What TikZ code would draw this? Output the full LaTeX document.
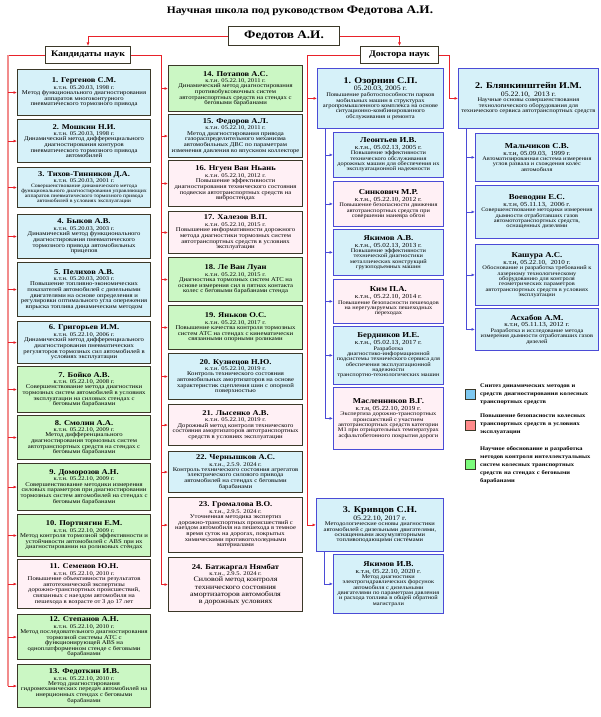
\documentclass[tikz,border=0pt]{standalone}
\usepackage{fontspec}
\setmainfont{Liberation Serif}[FakeStretch=1.15]
\usepackage{graphicx}
\usetikzlibrary{arrows.meta}
\definecolor{cblue}{HTML}{D6F1F9}
\definecolor{cgreen}{HTML}{CBF7C4}
\definecolor{cpink}{HTML}{FFF0F5}
\definecolor{bdark}{HTML}{3B3828}
\definecolor{lred}{HTML}{E8222A}
\definecolor{ltrunk}{HTML}{F28C8C}
\definecolor{dblue}{HTML}{4B4BD6}
\definecolor{swblue}{HTML}{7EC8F0}
\definecolor{swred}{HTML}{FF8A8A}
\definecolor{swgreen}{HTML}{7CFC7C}
\newsavebox\hdrbox
\newsavebox\tbox
\newdimen\availh
\newif\iffitmore
\def\Ta{7.4}\def\Tb{8}\def\Da{5.7}\def\Db{6.4}\def\Sa{5.8}\def\Sl{0.97}
\newcommand\myfitdesc[3]{%
  \edef\myfs{\Sa}%
  \loop
    \edef\myfsb{\fpeval{\myfs*\Sl}}%
    \sbox\tbox{\parbox{#1}{\centering\fontsize{\myfs}{\myfsb}\selectfont #3\par}}%
    \fitmorefalse
    \ifdim\dimexpr\ht\tbox+\dp\tbox\relax>#2\relax
      \ifdim\myfs pt>3.6pt
        \fitmoretrue
        \edef\myfs{\fpeval{\myfs-0.2}}%
      \fi
    \fi
  \iffitmore\repeat}
\newcommand\mycontent[5]{%
  \sbox\hdrbox{\parbox{#1}{\centering{\fontsize{\Ta}{\Tb}\selectfont\bfseries #3\par}{\fontsize{\Da}{\Db}\selectfont #4\par}}}%
  \availh=\dimexpr#2-\ht\hdrbox-\dp\hdrbox-0.6pt\relax
  \myfitdesc{#1}{\availh}{#5}%
  \vbox{\offinterlineskip\copy\hdrbox\kern0.6pt\copy\tbox}}
\newcommand\mybox[9]{\node[#2,minimum width=#5pt,minimum height=#6pt,anchor=north west] (#1) at (#3,#4) {\mycontent{\dimexpr#5pt-5pt\relax}{\dimexpr#6pt-3pt\relax}{#7}{#8}{#9}};}
\begin{document}
\begin{tikzpicture}[x=1pt,y=-1pt,
  cb/.style={draw=bdark,line width=1.1pt,inner sep=0pt},
  db/.style={draw=dblue,line width=0.8pt,inner sep=0pt},
  hb/.style={draw=bdark,line width=1pt,fill=white,inner sep=0pt},
  rl/.style={draw=lred,line width=0.8pt},
  ra/.style={rl,-{Latex[length=3.5pt,width=3pt]}},
  trunk/.style={draw=ltrunk,line width=1.4pt},
  bl/.style={draw=dblue,line width=0.8pt},
  ba/.style={bl,-{Latex[length=3.5pt,width=3pt]}},
  leg/.style={text width=118pt,align=left,font=\fontsize{5.6}{8}\selectfont\bfseries,inner sep=0pt,anchor=west},
  swatch/.style={minimum width=10pt,minimum height=10pt,draw=bdark,line width=0.8pt,inner sep=0pt}]
\fill[white] (0,0) rectangle (600,717);
\useasboundingbox (0,0) rectangle (600,717);

% header
\node (title) at (300,11) {\fontsize{10}{12}\selectfont\bfseries Научная школа под руководством \fontsize{11.5}{13}\selectfont Федотова А.И.};
\node[hb,minimum width=111pt,minimum height=19pt,anchor=north west] (fed) at (228,26) {\fontsize{11.5}{13}\selectfont\bfseries Федотов А.И.};
\node[hb,minimum width=85pt,minimum height=17pt,anchor=north west] (kand) at (45,46) {\fontsize{8.6}{10}\selectfont\bfseries Кандидаты наук};
\node[hb,minimum width=78pt,minimum height=17pt,anchor=north west] (dok) at (360,46) {\fontsize{8.6}{10}\selectfont\bfseries Доктора наук};

% left column
\mybox{c1}{cb,fill=cblue}{17}{69}{133}{46}{1. Гергенов С.М.}{к.т.н. 05.20.03, 1998 г.}{Метод функционального диагностирования аппаратов многоконтурного пневматического тормозного привода}
\mybox{c2}{cb,fill=cblue}{17}{119}{133}{43}{2. Мошкин Н.И.}{к.т.н. 05.20.03, 1998 г.}{Динамический метод дифференциального диагностирования контуров пневматического тормозного привода автомобилей}
\mybox{c3}{cb,fill=cblue}{17}{167}{133}{40}{3. Тихов-Тинников Д.А.}{к.т.н. 05.20.03, 2001 г.}{Совершенствование динамического метода функционального диагностирования управляющих аппаратов пневматического тормозного привода автомобилей в условиях эксплуатации}
\mybox{c4}{cb,fill=cblue}{17}{214}{133}{44}{4. Быков А.В.}{к.т.н. 05.20.03, 2003 г.}{Динамический метод функционального диагностирования пневматического тормозного привода автомобильных прицепов}
\mybox{c5}{cb,fill=cblue}{17}{262}{133}{54}{5. Пелихов А.В.}{к.т.н. 05.20.03, 2003 г.}{Повышение топливно-экономических показателей автомобилей с дизельными двигателями на основе определения и регулировки оптимального угла опережения впрыска топлива динамическим методом}
\mybox{c6}{cb,fill=cblue}{17}{321}{133}{42}{6. Григорьев И.М.}{к.т.н. 05.22.10, 2006 г.}{Динамический метод дифференциального диагностирования пневматических регуляторов тормозных сил автомобилей в условиях эксплуатации}
\mybox{c7}{cb,fill=cgreen}{17}{366}{133}{46}{7. Бойко А.В.}{к.т.н. 05.22.10, 2008 г.}{Совершенствование метода диагностики тормозных систем автомобилей в условиях эксплуатации на силовых стендах с беговыми барабанами}
\mybox{c8}{cb,fill=cgreen}{17}{415}{133}{44}{8. Смолин А.А.}{к.т.н. 05.22.10, 2009 г.}{Метод дифференциального диагностирования тормозных систем автотранспортных средств на стендах с беговыми барабанами}
\mybox{c9}{cb,fill=cgreen}{17}{463}{133}{47}{9. Доморозов А.Н.}{к.т.н. 05.22.10, 2009 г.}{Совершенствование методики измерения силовых параметров при диагностировании тормозных систем автомобилей на стендах с беговыми барабанами}
\mybox{c10}{cb,fill=cgreen}{17}{514}{133}{42}{10. Портнягин Е.М.}{к.т.н. 05.22.10, 2009 г.}{Метод контроля тормозной эффективности и устойчивости автомобилей с ABS при их диагностировании на роликовых стендах}
\mybox{c11}{cb,fill=cpink}{17}{559}{133}{49}{11. Семенов Ю.Н.}{к.т.н. 05.22.10, 2010 г.}{Повышение объективности результатов автотехнической экспертизы дорожно-транспортных происшествий, связанных с наездом автомобиля на пешехода в возрасте от 3 до 17 лет}
\mybox{c12}{cb,fill=cgreen}{17}{614}{133}{45}{12. Степанов А.Н.}{к.т.н. 05.22.10, 2010 г.}{Метод последовательного диагностирования тормозной системы АТС с функционирующей ABS на одноплатформенном стенде с беговыми барабанами}
\mybox{c13}{cb,fill=cgreen}{17}{664}{133}{43}{13. Федоткин И.В.}{к.т.н. 05.22.10, 2010 г.}{Метод диагностирования гидромеханических передач автомобилей на инерционных стендах с беговыми барабанами}

% middle column
\mybox{c14}{cb,fill=cgreen}{168}{65}{134}{46}{14. Потапов А.С.}{к.т.н. 05.22.10, 2011 г.}{Динамический метод диагностирования противобуксовочных систем автотранспортных средств на стендах с беговыми барабанами}
\mybox{c15}{cb,fill=cblue}{168}{114}{134}{43}{15. Федоров А.Л.}{к.т.н. 05.22.10, 2011 г.}{Метод диагностирования привода газораспределительного механизма автомобильных ДВС по параметрам изменения давления во впускном коллекторе}
\mybox{c16}{cb,fill=cpink}{168}{160}{134}{46}{16. Нгуен Ван Ньань}{к.т.н. 05.22.10, 2012 г.}{Повышение эффективности диагностирования технического состояния подвески автотранспортных средств на вибростендах}
\mybox{c17}{cb,fill=cpink}{168}{211}{134}{42}{17. Халезов В.П.}{к.т.н. 05.22.10, 2015 г.}{Повышение информативности дорожного метода диагностики тормозных систем автотранспортных средств в условиях эксплуатации}
\mybox{c18}{cb,fill=cgreen}{168}{257}{134}{44}{18. Ле Ван Луан}{к.т.н. 05.22.10, 2015 г.}{Диагностика тормозных систем АТС на основе измерения сил в пятнах контакта колес с беговыми барабанами стенда}
\mybox{c19}{cb,fill=cgreen}{168}{305}{134}{44}{19. Яньков О.С.}{к.т.н. 05.22.10, 2017 г.}{Повышение качества контроля тормозных систем АТС на стендах с кинематически связанными опорными роликами}
\mybox{c20}{cb,fill=cblue}{168}{353}{134}{46}{20. Кузнецов Н.Ю.}{к.т.н. 05.22.10, 2019 г.}{Контроль технического состояния автомобильных амортизаторов на основе характеристик сцепления шин с опорной поверхностью}
\mybox{c21}{cb,fill=cpink}{168}{404}{134}{41}{21. Лысенко А.В.}{к.т.н. 05.22.10, 2019 г.}{Дорожный метод контроля технического состояния амортизаторов автотранспортных средств в условиях эксплуатации}
\mybox{c22}{cb,fill=cblue}{168}{451}{134}{41}{22. Чернышков А.С.}{к.т.н., 2.5.9. 2024 г.}{Контроль технического состояния агрегатов электрического силового привода автомобилей на стендах с беговыми барабанами}
\mybox{c23}{cb,fill=cpink}{168}{497}{134}{55}{23. Громалова В.О.}{к.т.н., 2.9.5. 2024 г.}{Уточненная методика экспертиз дорожно-транспортных происшествий с наездом автомобиля на пешехода в темное время суток на дорогах, покрытых химическими противогололедными материалами}
\def\Sa{6.9}\def\Sl{1.05}
\mybox{c24}{cb,fill=cpink}{168}{557}{134}{54}{24. Батжаргал Нямбат}{к.т.н., 2.9.5. 2024 г.}{Силовой метод контроля\\ технического состояния\\ амортизаторов автомобиля\\ в дорожных условиях}

% doctors main boxes
\def\Ta{8.8}\def\Tb{10}\def\Da{6.8}\def\Db{7.8}\def\Sa{5.6}\def\Sl{0.97}
\mybox{oz}{db,fill=cblue}{317}{68}{126}{60}{1. Озорнин С.П.}{05.20.03, 2005 г.}{Повышение работоспособности парков мобильных машин в структурах агропромышленного комплекса на основе ситуационно-комбинированного обслуживания и ремонта}
\mybox{kriv}{db,fill=cblue}{316}{498}{127}{53}{3. Кривцов С.Н.}{05.22.10, 2017 г.}{Методологические основы диагностики автомобилей с дизельными двигателями, оснащенными аккумуляторными топливоподающими системами}
\mybox{bly}{db,fill=cblue}{458}{68}{140}{60}{2. Блянкинштейн И.М.}{05.22.10,\ \ 2013 г.}{Научные основы совершенствования технологического оборудования для технического сервиса автотранспортных средств}

% doctors sub boxes
\def\Ta{7.6}\def\Tb{8.4}\def\Da{6.2}\def\Db{6.9}\def\Sa{5.5}
\mybox{leo}{db,fill=cblue}{333}{132}{110}{45}{Леонтьев И.В.}{к.т.н., 05.02.13, 2005 г.}{Повышение эффективности технического обслуживания дорожных машин для обеспечения их эксплуатационной надежности}
\mybox{sin}{db,fill=cpink}{333}{181}{110}{45}{Синкович М.Р.}{к.т.н., 05.22.10, 2012 г.}{Повышение безопасности движения автотранспортных средств при совершении маневра обгон}
\mybox{yaka}{db,fill=cblue}{333}{229}{110}{46}{Якимов А.В.}{к.т.н., 05.02.13, 2013 г.}{Повышение эффективности технической диагностики металлических конструкций грузоподъемных машин}
\mybox{kim}{db,fill=cpink}{333}{279}{110}{44}{Ким П.А.}{к.т.н., 05.22.10, 2014 г.}{Повышение безопасности пешеходов на нерегулируемых пешеходных переходах}
\mybox{ber}{db,fill=cblue}{333}{326}{110}{58}{Бердников И.Е.}{к.т.н., 05.02.13, 2017 г.}{Разработка диагностико-информационной подсистемы технического сервиса для обеспечения эксплуатационной надежности транспортно-технологических машин}
\mybox{masl}{db,fill=cpink}{333}{387}{110}{62}{Масленников В.Г.}{к.т.н, 05.22.10, 2019 г.}{Экспертиза дорожно-транспортных происшествий с участием автотранспортных средств категории M1 при отрицательных температурах асфальтобетонного покрытия дороги}
\mybox{yaki}{db,fill=cblue}{333}{554}{110}{59}{Якимов И.В.}{к.т.н, 05.22.10, 2020 г.}{Метод диагностики электрогидравлических форсунок автомобиля с дизельными двигателями по параметрам давления и расхода топлива в общей обратной магистрали}
\mybox{mal}{db,fill=cblue}{475}{133}{123}{48}{Мальчиков С.В.}{к.т.н, 05.09.03,\ \ 1999 г.}{Автоматизированная система измерения углов развала и схождения колес автомобиля}
\mybox{voe}{db,fill=cblue}{475}{185}{123}{53}{Воеводин Е.С.}{к.т.н, 05.11.13,\ \ 2006 г.}{Совершенствование методики измерения дымности отработавших газов автомототранспортных средств, оснащенных дизелями}
\mybox{kas}{db,fill=cblue}{475}{244}{123}{61}{Кашура А.С.}{к.т.н, 05.22.10,\ \ 2010 г.}{Обоснование и разработка требований к лазерному технологическому оборудованию для контроля геометрических параметров автотранспортных средств в условиях эксплуатации}
\mybox{ask}{db,fill=cblue}{475}{308}{123}{42}{Асхабов А.М.}{к.т.н, 05.11.13, 2012 г.}{Разработка и исследование метода измерения дымности отработавших газов дизелей}

% legend
\node[swatch,fill=swblue] (s1) at (470,394) {};
\node[leg] (l1) at (480,394) {Синтез динамических методов и\\ средств диагностирования колесных\\ транспортных средств};
\node[swatch,fill=swred] (s2) at (470,425) {};
\node[leg] (l2) at (480,424) {Повышение безопасности колесных\\ транспортных средств в условиях\\ эксплуатации};
\node[swatch,fill=swgreen] (s3) at (470,464) {};
\node[leg] (l3) at (480,465) {Научное обоснование и разработка\\ методов контроля интеллектуальных\\ систем колесных транспортных\\ средств на стендах с беговыми\\ барабанами};

% trunk coordinates
\coordinate (LT) at (8,0);
\coordinate (MT) at (161,0);
\coordinate (DL) at (307,0);
\coordinate (DR) at (449,0);
\coordinate (OZT) at (325,0);
\coordinate (KRT) at (324,0);
\coordinate (BLT) at (466,0);

% top connectors
\draw[ra] (fed.west) -| (kand.north);
\draw[ra] (fed.east) -| (dok.north);

% candidates
\draw[rl] (kand.west) -- (kand.west -| LT);
\draw[trunk] (kand.west -| LT) -- (LT |- c13.west);
\foreach \i in {1,...,13} \draw[ra] (LT |- c\i.west) -- (c\i.west);
\draw[rl] (kand.east) -| (MT |- c24.west);
\foreach \i in {14,...,24} \draw[ra] (MT |- c\i.west) -- (c\i.west);

% doctors
\draw[rl] (dok.west) -| (DL |- kriv.west);
\draw[ra] (DL |- oz.west) -- (oz.west);
\draw[ra] (DL |- kriv.west) -- (kriv.west);
\draw[ra] (dok.east) -| (DR |- bly.west) -- (bly.west);

\draw[bl] (oz.south -| OZT) -- (OZT |- masl.west);
\foreach \n in {leo,sin,yaka,kim,ber,masl} \draw[ba] (OZT |- \n.west) -- (\n.west);
\draw[ba] (kriv.south -| KRT) |- (yaki.west);
\draw[bl] (bly.south -| BLT) -- (BLT |- ask.west);
\foreach \n in {mal,voe,kas,ask} \draw[ba] (BLT |- \n.west) -- (\n.west);
\end{tikzpicture}
\end{document}
